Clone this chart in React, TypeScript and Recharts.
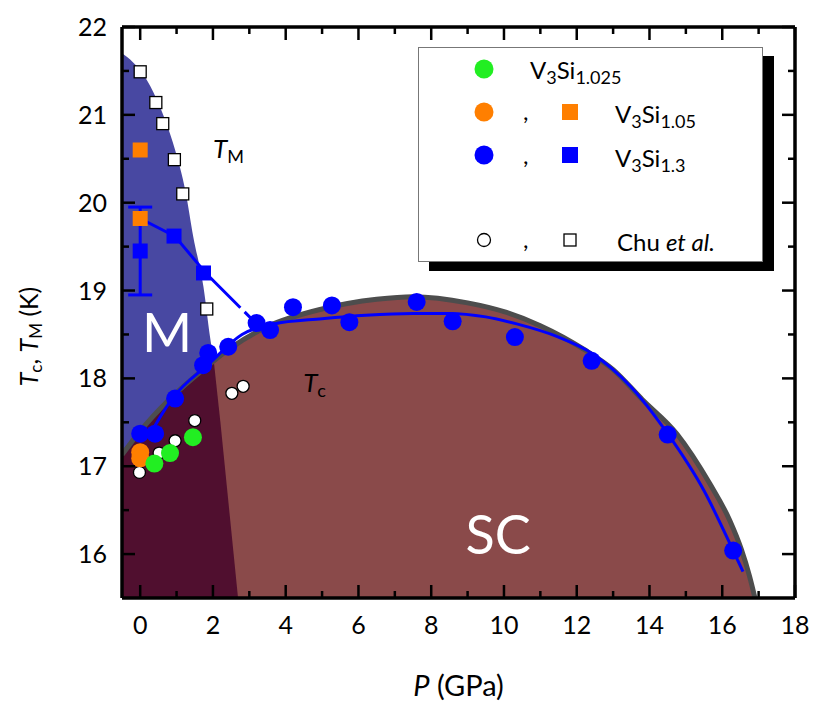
import React from "react";
import { ComposedChart, XAxis, YAxis, Area, Line, Scatter, ErrorBar, ReferenceDot } from "recharts";

const FONT = "Lato, 'Open Sans', sans-serif";

// axis ticks
const X_TICKS = [0, 1, 2, 3, 4, 5, 6, 7, 8, 9, 10, 11, 12, 13, 14, 15, 16, 17, 18];
const Y_TICKS = [16, 16.5, 17, 17.5, 18, 18.5, 19, 19.5, 20, 20.5, 21, 21.5, 22];

// T_M edge of the martensitic (blue) region
const tmEdgeP = [-0.5, -0.2, 0.1, 0.46, 0.96, 1.24, 1.46, 1.74, 1.92, 2.06, 2.2, 2.69];
const tmEdgeT = [21.7, 21.6, 21.45, 21.17, 20.6, 20.14, 19.61, 19.04, 18.47, 18.09, 17.52, 15.5];

// superconducting dome
const domeP = [-0.5, 0, 0.75, 1.5, 2.5, 3.5, 5, 6.5, 7.5, 9, 10, 11, 12.2, 13, 13.8, 14.75, 15.66, 16.21, 16.52, 16.75, 16.9];
const domeT = [17.13, 17.4, 17.74, 18.02, 18.35, 18.59, 18.79, 18.9, 18.93, 18.86, 18.76, 18.6, 18.33, 18.1, 17.76, 17.37, 16.8, 16.38, 16.06, 15.75, 15.5];

// overlap M + SC (dark region)
const mscP = [-0.5, 0, 0.75, 1.5, 2.03, 2.2, 2.69];
const mscT = [17.13, 17.4, 17.74, 18.02, 18.17, 17.52, 15.5];

// guide lines for V3Si1.3
const tcFitP = [0.25, 0.9, 1.9, 2.8, 3.66, 5.0, 6.2, 7.5, 8.5, 9.5, 10.35, 11.5, 12.4, 13.5, 14.5, 15.5, 16.3, 16.57];
const tcFitT = [17.35, 17.78, 18.17, 18.5, 18.62, 18.68, 18.72, 18.74, 18.74, 18.7, 18.62, 18.47, 18.29, 17.9, 17.37, 16.72, 16.04, 15.8];
const tmGuideP = [0, 0.95, 1.8, 3.2];
const tmGuideT = [19.82, 19.62, 19.2, 18.62];

// measured points
const tcSi13P = [0, 0.41, 0.96, 1.73, 1.87, 2.42, 3.2, 3.57, 4.2, 5.27, 5.75, 7.6, 8.59, 10.3, 12.41, 14.5, 16.3];
const tcSi13T = [17.37, 17.37, 17.77, 18.15, 18.29, 18.36, 18.63, 18.55, 18.81, 18.83, 18.64, 18.87, 18.65, 18.47, 18.2, 17.36, 16.04];
const tmSi13P = [0, 0.93, 1.74];
const tmSi13T = [19.45, 19.62, 19.2];
const tmSi13Err = [0.5, 0, 0];
const tcSi105P = [0, 0];
const tcSi105T = [17.16, 17.09];
const tmSi105P = [0, 0];
const tmSi105T = [20.6, 19.82];
const tcSi1025P = [0.39, 0.82, 1.45];
const tcSi1025T = [17.03, 17.15, 17.33];
const tcChuP = [-0.02, 0.52, 0.96, 1.5, 2.52, 2.83];
const tcChuT = [16.93, 17.15, 17.29, 17.52, 17.83, 17.91];
const tmChuP = [0, 0.43, 0.62, 0.94, 1.17, 1.83];
const tmChuT = [21.49, 21.14, 20.9, 20.49, 20.1, 18.79];

const pts = (p: number[], t: number[], e?: number[]) =>
  p.map((x, i) => (e ? { p: x, t: t[i], err: e[i] } : { p: x, t: t[i] }));

const BLUE = "#0000ff";
const ORANGE = "#ff7f00";
const GREEN = "#22ee22";
const AXIS = { stroke: "#000", strokeWidth: 3.5 };

const BottomTick = ({ x, y, payload }: any) => {
  const major = payload.value % 2 === 0;
  return (
    <g>
      <line x1={x} x2={x} y1={y} y2={y - (major ? 13 : 7)} stroke="#000" strokeWidth={2.5} />
      {major && (
        <text x={x} y={y + 36} textAnchor="middle" fontSize={25} fontFamily={FONT} fill="#000">
          {payload.value}
        </text>
      )}
    </g>
  );
};
const TopTick = ({ x, y, payload }: any) => {
  const major = payload.value % 2 === 0;
  return <line x1={x} x2={x} y1={y} y2={y + (major ? 13 : 7)} stroke="#000" strokeWidth={2.5} />;
};
const LeftTick = ({ x, y, payload }: any) => {
  const major = Number.isInteger(payload.value);
  return (
    <g>
      <line x1={x} x2={x + (major ? 13 : 7)} y1={y} y2={y} stroke="#000" strokeWidth={2.5} />
      {major && (
        <text x={x - 15} y={y + 9} textAnchor="end" fontSize={25} fontFamily={FONT} fill="#000">
          {payload.value}
        </text>
      )}
    </g>
  );
};
const RightTick = ({ x, y, payload }: any) => {
  const major = Number.isInteger(payload.value);
  return <line x1={x} x2={x - (major ? 13 : 7)} y1={y} y2={y} stroke="#000" strokeWidth={2.5} />;
};

const circle = (r: number, fill: string, stroke = "none", sw = 0) => (p: any) =>
  <circle cx={p.cx} cy={p.cy} r={r} fill={fill} stroke={stroke} strokeWidth={sw} />;
const square = (s: number, fill: string, stroke = "none", sw = 0) => (p: any) =>
  <rect x={p.cx - s / 2} y={p.cy - s / 2} width={s} height={s} fill={fill} stroke={stroke} strokeWidth={sw} />;

const note = (content: React.ReactNode, size: number, color: string, anchor = "start") => (p: any) =>
  <text x={p.cx} y={p.cy} fontSize={size} fill={color} fontFamily={FONT} textAnchor={anchor}>{content}</text>;

const Sub = ({ c, size = 18 }: { c: string; size?: number }) => (
  <tspan fontSize={size} dy={5}>{c}</tspan>
);

const XTitle = ({ viewBox }: any) => (
  <text x={viewBox.x + viewBox.width / 2} y={viewBox.y + 98} textAnchor="middle" fontSize={29} fontFamily={FONT} fill="#000">
    <tspan fontStyle="italic">P</tspan> (GPa)
  </text>
);
const YTitle = ({ viewBox }: any) => {
  const cx = 38;
  const cy = viewBox.y + viewBox.height / 2 + 24;
  return (
    <text x={cx} y={cy} transform={`rotate(-90, ${cx}, ${cy})`} textAnchor="middle" fontSize={25} fontFamily={FONT} fill="#000">
      <tspan fontStyle="italic">T</tspan>
      <tspan fontSize={17} dy={4}>c</tspan>
      <tspan dy={-4}>, </tspan>
      <tspan fontStyle="italic">T</tspan>
      <tspan fontSize={17} dy={4}>M</tspan>
      <tspan dy={-4}> (K)</tspan>
    </text>
  );
};

const legendRows = [
  { y: 22, circle: GREEN, square: null, label: "1.025", ty: 32 },
  { y: 65, circle: ORANGE, square: ORANGE, label: "1.05", ty: 76 },
  { y: 108, circle: BLUE, square: BLUE, label: "1.3", ty: 120 },
];

const LegendBox = () => (
  <div
    style={{
      position: "absolute", left: 418, top: 47, width: 345, height: 215, background: "#fff",
      border: "1.5px solid #777", boxSizing: "border-box", boxShadow: "11px 9px 0 #000",
    }}
  >
    <svg width={345} height={215} style={{ position: "absolute", left: -1.5, top: -1.5 }}>
      {legendRows.map((r) => (
        <g key={r.label}>
          <circle cx={66} cy={r.y} r={9.5} fill={r.circle} />
          {r.square && (
            <>
              <text x={105} y={r.ty - 3} fontSize={24} fontFamily={FONT}>,</text>
              <rect x={152 - 8} y={r.y - 8} width={16} height={16} fill={r.square} />
            </>
          )}
          <text x={r.square ? 197 : 112} y={r.ty} fontSize={24} fontFamily={FONT} fill="#000">
            V<Sub c="3" /><tspan dy={-5}>Si</tspan><Sub c={r.label} />
          </text>
        </g>
      ))}
      <circle cx={66} cy={193} r={6.5} fill="#fff" stroke="#000" strokeWidth={1.3} />
      <text x={105} y={201} fontSize={24} fontFamily={FONT}>,</text>
      <rect x={146} y={187} width={12} height={12} fill="#fff" stroke="#000" strokeWidth={1.3} />
      <text x={199} y={204} fontSize={24} fontFamily={FONT} fill="#000">
        Chu <tspan fontStyle="italic">et al.</tspan>
      </text>
    </svg>
  </div>
);

export default function App() {
  const ax = { xAxisId: "b", yAxisId: "l" };
  return (
    <div style={{ position: "absolute", left: 0, top: 0, width: 813, height: 702, background: "#fff" }}>
      <ComposedChart width={813} height={702} margin={{ top: 26, right: 17, bottom: 64, left: 62 }}>
        <XAxis xAxisId="b" dataKey="p" type="number" domain={[-0.5, 18]} allowDataOverflow ticks={X_TICKS}
          interval={0} tickLine={false} tickSize={0} tickMargin={0} tick={(p: any) => <BottomTick {...p} />}
          height={40} axisLine={AXIS} label={(p: any) => <XTitle {...p} />} />
        <XAxis xAxisId="t" orientation="top" dataKey="p" type="number" domain={[-0.5, 18]} allowDataOverflow
          ticks={X_TICKS} interval={0} tickLine={false} tickSize={0} tickMargin={0}
          tick={(p: any) => <TopTick {...p} />} height={1} axisLine={AXIS} />
        <YAxis yAxisId="l" type="number" domain={[15.5, 22]} allowDataOverflow ticks={Y_TICKS} interval={0}
          tickLine={false} tickSize={0} tickMargin={0} tick={(p: any) => <LeftTick {...p} />} width={60}
          axisLine={AXIS} label={(p: any) => <YTitle {...p} />} />
        <YAxis yAxisId="r" orientation="right" type="number" domain={[15.5, 22]} allowDataOverflow ticks={Y_TICKS}
          interval={0} tickLine={false} tickSize={0} tickMargin={0} tick={(p: any) => <RightTick {...p} />}
          width={1} axisLine={AXIS} />

        <Area {...ax} data={pts(tmEdgeP, tmEdgeT)} dataKey="t" type="monotone" baseValue={15.5}
          fill="#4848a2" fillOpacity={1} stroke="none" isAnimationActive={false} activeDot={false} />
        <Area {...ax} data={pts(domeP, domeT)} dataKey="t" type="monotone" baseValue={15.5}
          fill="#8a4a4a" fillOpacity={1} stroke="none" isAnimationActive={false} activeDot={false} />
        <Area {...ax} data={pts(mscP, mscT)} dataKey="t" type="linear" baseValue={15.5}
          fill="#500f2f" fillOpacity={1} stroke="none" isAnimationActive={false} activeDot={false} />
        <Line {...ax} data={pts(domeP, domeT)} dataKey="t" type="monotone" stroke="#4d4d4d" strokeWidth={5}
          dot={false} activeDot={false} isAnimationActive={false} />

        <Scatter {...ax} data={pts(tcChuP, tcChuT)} dataKey="t" shape={circle(6, "#fff", "#000", 1.3)} isAnimationActive={false} />
        <Scatter {...ax} data={pts(tmChuP, tmChuT)} dataKey="t" shape={square(12, "#fff", "#000", 1.3)} isAnimationActive={false} />

        <Line {...ax} data={pts(tcFitP, tcFitT)} dataKey="t" type="monotone" stroke={BLUE} strokeWidth={3}
          dot={false} activeDot={false} isAnimationActive={false} />
        <Line {...ax} data={pts(tmGuideP, tmGuideT)} dataKey="t" type="linear" stroke={BLUE} strokeWidth={3}
          strokeDasharray="136 6 60" dot={false} activeDot={false} isAnimationActive={false} />

        <Scatter {...ax} data={pts(tcSi13P, tcSi13T)} dataKey="t" shape={circle(9, BLUE)} isAnimationActive={false} />
        <Scatter {...ax} data={pts(tmSi13P, tmSi13T, tmSi13Err)} dataKey="t" shape={square(15, BLUE)} isAnimationActive={false}>
          <ErrorBar dataKey="err" direction="y" width={12} stroke={BLUE} strokeWidth={3} isAnimationActive={false} />
        </Scatter>
        <Scatter {...ax} data={pts(tcSi105P, tcSi105T)} dataKey="t" shape={circle(9, ORANGE)} isAnimationActive={false} />
        <Scatter {...ax} data={pts(tmSi105P, tmSi105T)} dataKey="t" shape={square(15, ORANGE)} isAnimationActive={false} />
        <Scatter {...ax} data={pts(tcSi1025P, tcSi1025T)} dataKey="t" shape={circle(9, GREEN)} isAnimationActive={false} />

        <ReferenceDot {...ax} x={2.0} y={20.51} r={0}
          shape={note(<><tspan fontStyle="italic">T</tspan><Sub c="M" /></>, 26, "#000")} />
        <ReferenceDot {...ax} x={4.48} y={17.845} r={0}
          shape={note(<><tspan fontStyle="italic">T</tspan><Sub c="c" /></>, 26, "#000")} />
        <ReferenceDot {...ax} x={0.05} y={18.3} r={0} shape={note("M", 54, "#fff")} />
        <ReferenceDot {...ax} x={9.84} y={16.0} r={0} shape={note("SC", 54, "#fff", "middle")} />
      </ComposedChart>
      <LegendBox />
    </div>
  );
}
